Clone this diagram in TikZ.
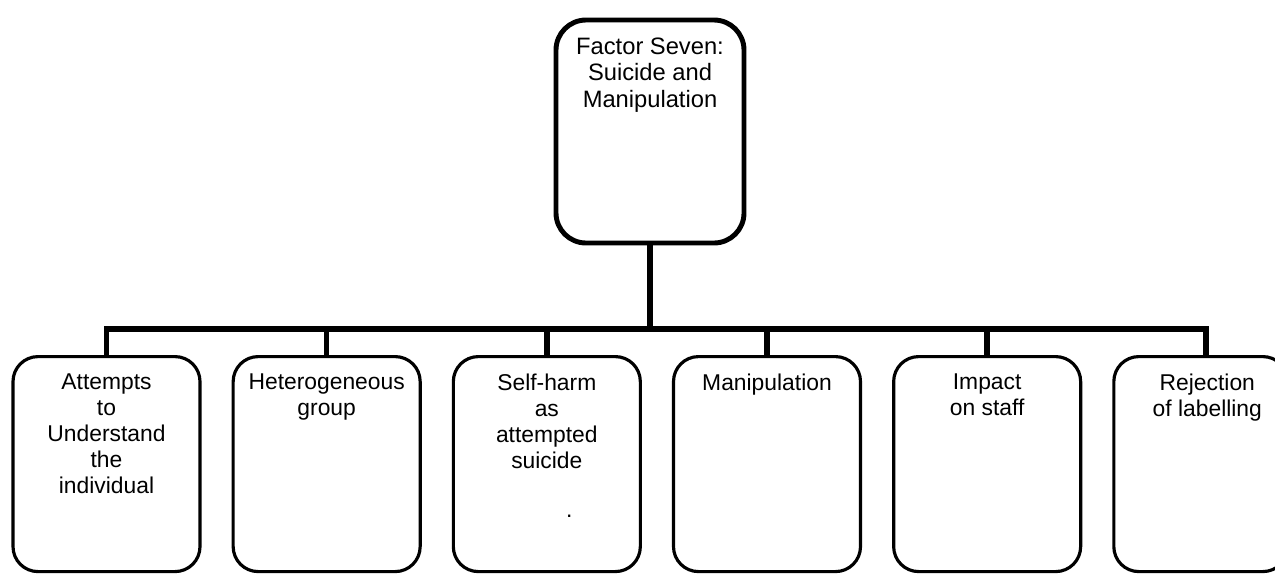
\documentclass[tikz,border=0pt]{standalone}
\usepackage{fontspec}
\setmainfont{Liberation Sans}
\usetikzlibrary{positioning}
\usetikzlibrary{calc}
\tikzset{
  factor/.style={draw, line width=2.8pt, rounded corners=0.6cm, inner xsep=0pt, inner ysep=0.35cm, font=\fontsize{13.5}{15.3}\selectfont},
  theme/.style={draw, line width=1.8pt, rounded corners=0.5cm, inner xsep=0pt, inner ysep=0.35cm, anchor=north, font=\fontsize{13}{14.8}\selectfont},
  link/.style={line width=3.2pt}
}
\newcommand{\toptext}[1]{\parbox[t][3.76cm][t]{3.76cm}{\centering #1}}
\newcommand{\subtext}[2][3.74cm]{\parbox[t][3.6cm][t]{#1}{\centering #2}}

\begin{document}
\begin{tikzpicture}
\useasboundingbox (0,0) rectangle (25.5,-11.48);
\node[factor] (factor) at (13.0,-2.63) {\toptext{Factor Seven:\\ Suicide and\\ Manipulation}};
\node[theme] (b1) at (2.13,-7.1) {\subtext{Attempts\\ to\\ Understand\\ the\\ individual}};
\node[theme, right=0.6cm of b1] (b2) {\subtext{Heterogeneous\\ group}};
\node[theme, right=0.6cm of b2] (b3) {\subtext{Self-harm\\ as\\ attempted\\ suicide\\[13pt]\hspace*{0.9cm}.}};
\node[theme, right=0.6cm of b3] (b4) {\subtext{Manipulation}};
\node[theme, right=0.6cm of b4] (b5) {\subtext{Impact\\ on staff}};
\node[theme, right=0.6cm of b5] (b6) {\subtext[3.48cm]{\hspace*{0.26cm}Rejection\\ \hspace*{0.26cm}of labelling}};
% bar between the levels
\coordinate (bar) at (0,-6.58);
\coordinate (b6in) at ($(b6.north west)+(1.87,0)$);
\foreach \b in {b1,b2,b3,b4,b5,b6in} {
\draw[link] (factor.south) -- (factor.south |- bar) -| (\b.north);
}
\end{tikzpicture}
\end{document}
